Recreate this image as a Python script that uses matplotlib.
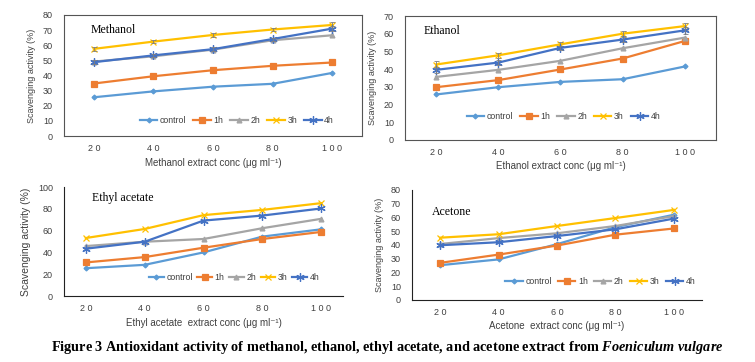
import matplotlib.pyplot as plt

plt.rcParams['font.family'] = ['Liberation Sans', 'DejaVu Sans']
plt.rcParams['mathtext.fontset'] = 'custom'
plt.rcParams['mathtext.it'] = 'Liberation Serif:italic:bold'
plt.rcParams['mathtext.rm'] = 'Liberation Serif:bold'

conc = [20, 40, 60, 80, 100]
conc_labels = [" ".join(str(c)) for c in conc]
series_names = ["control", "1h", "2h", "3h", "4h"]

# Methanol
meth_control = [25.6, 29.5, 32.6, 34.5, 41.7]
meth_1h = [34.7, 39.5, 43.5, 46.4, 48.6]
meth_2h = [49.2, 52.7, 57.1, 63.3, 66.6]
meth_3h = [57.6, 62.4, 66.8, 70.4, 73.4]
meth_4h = [48.8, 53.3, 57.4, 64.1, 71.0]
meth_err = [1.2, 1.0, 1.3, 1.0, 1.8]

# Ethanol
eth_control = [25.7, 29.8, 32.8, 34.3, 41.5]
eth_1h = [29.8, 33.8, 39.8, 46.0, 55.9]
eth_2h = [35.6, 39.6, 44.7, 51.8, 57.8]
eth_3h = [42.6, 47.8, 54.0, 60.0, 64.3]
eth_4h = [39.6, 43.7, 52.0, 56.7, 61.9]
eth_err = [1.8, 1.5, 1.2, 1.5, 2.0]

# Ethyl acetate
ea_control = [25.5, 28.6, 40.0, 54.5, 61.2]
ea_1h = [30.8, 35.7, 44.3, 52.3, 58.8]
ea_2h = [45.8, 49.8, 52.3, 62.2, 70.8]
ea_3h = [53.2, 61.5, 74.2, 79.0, 85.2]
ea_4h = [43.4, 49.8, 69.2, 73.8, 80.3]

# Acetone
ac_control = [25.3, 29.5, 40.6, 53.0, 62.0]
ac_1h = [27.0, 33.0, 39.6, 47.5, 52.0]
ac_2h = [40.7, 45.0, 48.5, 53.8, 61.0]
ac_3h = [45.3, 47.8, 53.8, 59.6, 65.5]
ac_4h = [39.8, 42.0, 46.5, 51.4, 59.2]

colors = ["#5B9BD5", "#ED7D31", "#A5A5A5", "#FFC000", "#4472C4"]
markers = ["D", "s", "^", "x", (6, 2, 0)]
msizes = [2.5, 4, 3.5, 5, 6]


def draw_panel(ax, data, title, xlabel, ymax, ystep, xpad, title_xy, legend_anchor,
               err=None, boxed=True, ylabel_size=6.5, hl=2.0, cs=0.8):
    x = range(len(conc))
    for i, vals in enumerate(data):
        ax.plot(x, vals, color=colors[i], marker=markers[i], markersize=msizes[i],
                linewidth=1.6, label=series_names[i], markeredgewidth=0.9)
        if err is not None and i in (3, 4):
            ax.errorbar(x, vals, yerr=err, fmt='none', ecolor='#7f7f7f',
                        elinewidth=0.6, capsize=1.8, capthick=0.6)
    ax.set_xlim(-xpad, len(conc) - 1 + xpad)
    ax.set_ylim(0, ymax)
    ax.set_yticks(range(0, ymax + 1, ystep))
    ax.set_xticks(list(x))
    ax.set_xticklabels(conc_labels)
    ax.tick_params(length=0, labelsize=6.5, colors='#404040', pad=6)
    ax.tick_params(axis='y', pad=8)
    ax.set_xlabel(xlabel, fontsize=7, color='#404040', labelpad=3)
    ax.set_ylabel("Scavenging activity (%)", fontsize=ylabel_size, color='#404040', labelpad=5)
    if boxed:
        for s in ax.spines.values():
            s.set_color('#555555')
            s.set_linewidth(0.8)
    else:
        ax.spines['top'].set_visible(False)
        ax.spines['right'].set_visible(False)
        ax.spines['left'].set_color('#222222')
        ax.spines['bottom'].set_color('#222222')
    ax.text(title_xy[0], title_xy[1], title, transform=ax.transAxes,
            family='Liberation Serif', fontsize=8.5, va='center')
    ax.legend(loc='center', bbox_to_anchor=legend_anchor, ncol=5, frameon=False,
              fontsize=6.3, handlelength=hl, columnspacing=cs, handletextpad=0.3,
              labelcolor='#404040')


fig = plt.figure(figsize=(7.55, 3.62), dpi=100)

ax1 = fig.add_axes([0.0848, 0.6243, 0.3947, 0.3343])
draw_panel(ax1, [meth_control, meth_1h, meth_2h, meth_3h, meth_4h], "Methanol",
           "Methanol extract conc (μg ml⁻¹)", 80, 10, 0.5, (0.09, 0.88), (0.58, 0.13),
           err=meth_err)

ax2 = fig.add_axes([0.5364, 0.6133, 0.4119, 0.3425])
draw_panel(ax2, [eth_control, eth_1h, eth_2h, eth_3h, eth_4h], "Ethanol",
           "Ethanol extract conc (μg ml⁻¹)", 70, 10, 0.5, (0.06, 0.88), (0.51, 0.19),
           err=eth_err)

ax3 = fig.add_axes([0.0848, 0.1823, 0.3695, 0.3011])
draw_panel(ax3, [ea_control, ea_1h, ea_2h, ea_3h, ea_4h], "Ethyl acetate",
           "Ethyl acetate  extract conc (μg ml⁻¹)", 100, 20, 0.37, (0.1, 0.9), (0.61, 0.17),
           boxed=False, ylabel_size=7.5, hl=1.7, cs=0.5)

ax4 = fig.add_axes([0.5457, 0.1713, 0.3841, 0.3039])
draw_panel(ax4, [ac_control, ac_1h, ac_2h, ac_3h, ac_4h], "Acetone",
           "Acetone  extract conc (μg ml⁻¹)", 80, 10, 0.48, (0.07, 0.8), (0.65, 0.17),
           boxed=False, hl=2.0, cs=0.7)

fig.text(0.513, 0.039, "Figure 3 Antioxidant activity of methanol, ethanol, ethyl acetate, and acetone extract from "
         r"$\it{Foeniculum\ vulgare}$",
         ha='center', va='center', family='Liberation Serif', fontweight='bold', fontsize=10.3)

fig.savefig("out.png", dpi=100)
